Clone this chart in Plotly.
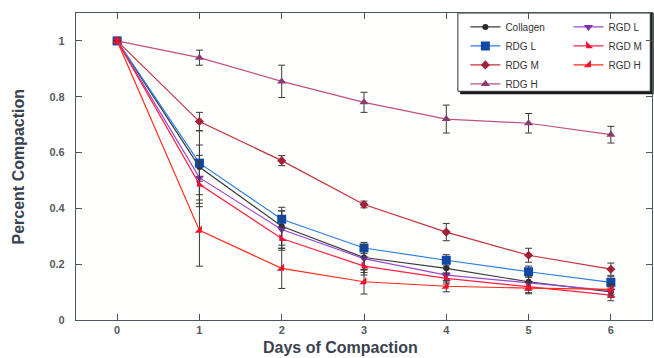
import plotly.graph_objects as go

days = [0, 1, 2, 3, 4, 5, 6]
x_ticks = [0, 1, 2, 3, 4, 5, 6]
y_ticks = [0, 0.2, 0.4, 0.6, 0.8, 1]
y_tick_labels = ["0", "0.2", "0.4", "0.6", "0.8", "1"]

collagen = [1, 0.548, 0.336, 0.224, 0.185, 0.137, 0.101]
collagen_err = [0, 0.13, 0.068, 0.045, 0.025, 0.025, 0.02]
rdg_l = [1, 0.562, 0.361, 0.258, 0.214, 0.173, 0.135]
rdg_l_err = [0, 0.065, 0.03, 0.02, 0.02, 0.02, 0.02]
rdg_m = [1, 0.711, 0.571, 0.414, 0.315, 0.232, 0.182]
rdg_m_err = [0, 0.033, 0.018, 0.012, 0.031, 0.025, 0.022]
rdg_h = [1, 0.940, 0.855, 0.780, 0.720, 0.705, 0.664]
rdg_h_err = [0, 0.027, 0.058, 0.036, 0.05, 0.035, 0.03]
rgd_l = [1, 0.510, 0.324, 0.220, 0.161, 0.132, 0.105]
rgd_l_err = [0, 0.08, 0.067, 0.05, 0.025, 0.025, 0.02]
rgd_m = [1, 0.486, 0.292, 0.193, 0.149, 0.118, 0.089]
rgd_m_err = [0, 0.08, 0.042, 0.032, 0.02, 0.02, 0.02]
rgd_h = [1, 0.321, 0.185, 0.137, 0.121, 0.114, 0.110]
rgd_h_err = [0, 0.128, 0.072, 0.044, 0.02, 0.02, 0.02]

series = [
    ("Collagen", collagen, collagen_err, "#3a3a3a", "#2a2a2a", "circle", 6, "legend"),
    ("RDG L", rdg_l, rdg_l_err, "#2a7ee0", "#1048a8", "square", 9, "legend"),
    ("RDG M", rdg_m, rdg_m_err, "#c4303c", "#a02238", "diamond", 7, "legend"),
    ("RDG H", rdg_h, rdg_h_err, "#c0507e", "#8a3a70", "triangle-up", 8, "legend"),
    ("RGD L", rgd_l, rgd_l_err, "#9a48d0", "#7a30b0", "triangle-down", 8, "legend2"),
    ("RGD M", rgd_m, rgd_m_err, "#ff2040", "#f0103a", "triangle-sw", 8, "legend2"),
    ("RGD H", rgd_h, rgd_h_err, "#ff2a1a", "#f0102a", "triangle-se", 8, "legend2"),
]

fig = go.Figure()
for name, vals, errs, lc, mc, sym, ms, leg in series:
    fig.add_trace(go.Scatter(
        x=days, y=vals, name=name, mode="lines+markers",
        line=dict(color=lc, width=1.2),
        marker=dict(symbol=sym, size=ms, color=mc),
        error_y=dict(type="data", array=errs, visible=True,
                     color="#3a3a3a", thickness=1, width=3.5),
        legend=leg,
    ))

# legend frame with shadow
fig.add_shape(type="rect", xref="paper", yref="paper",
              x0=0.667, x1=1.003, y0=0.735, y1=1.0,
              fillcolor="#1c1c1c", line=dict(width=0), layer="below")
fig.add_shape(type="rect", xref="paper", yref="paper",
              x0=0.663, x1=0.997, y0=0.745, y1=1.0,
              fillcolor="white", line=dict(color="#333", width=1), layer="below")

axis_common = dict(
    showline=True, linecolor="#4a5560", linewidth=1.2, mirror="ticks",
    ticks="inside", ticklen=6, tickcolor="#4a5560",
    showgrid=False, zeroline=False,
    tickfont=dict(family="Arial, Liberation Sans", size=11, color="#555b60",
                  weight="bold"),
)

fig.update_xaxes(range=[-0.5, 6.5], tickvals=x_ticks, **axis_common)
fig.update_yaxes(range=[0, 1.1], tickvals=y_ticks, ticktext=y_tick_labels,
                 ticklabelstandoff=8, **axis_common)

fig.add_annotation(text="<b>Days of Compaction</b>", xref="paper", yref="paper",
                   x=(340 - 76) / 576, y=0, yshift=-38, showarrow=False,
                   font=dict(family="Arial, Liberation Sans", size=16, color="#3a4250"),
                   xanchor="center", yanchor="bottom")
fig.add_annotation(text="<b>Percent Compaction</b>", xref="paper", yref="paper",
                   x=0, xshift=-58, y=0.5, textangle=-90, showarrow=False,
                   font=dict(family="Arial, Liberation Sans", size=16, color="#3a4250"),
                   xanchor="center", yanchor="middle")

legend_common = dict(
    bgcolor="rgba(0,0,0,0)", borderwidth=0,
    font=dict(family="Arial, Liberation Sans", size=10, color="#333"),
    xanchor="left", yanchor="top", tracegroupgap=0,
)
fig.update_layout(
    width=654, height=358,
    margin=dict(l=76, r=2, t=13, b=38),
    paper_bgcolor="white", plot_bgcolor="#fefefd",
    showlegend=True,
    legend=dict(x=0.676, y=1.002, **legend_common),
    legend2=dict(x=0.855, y=1.002, **legend_common),
)

fig.write_html("out.html", config={"displayModeBar": False},
               post_script="document.body.style.margin='0px';")
